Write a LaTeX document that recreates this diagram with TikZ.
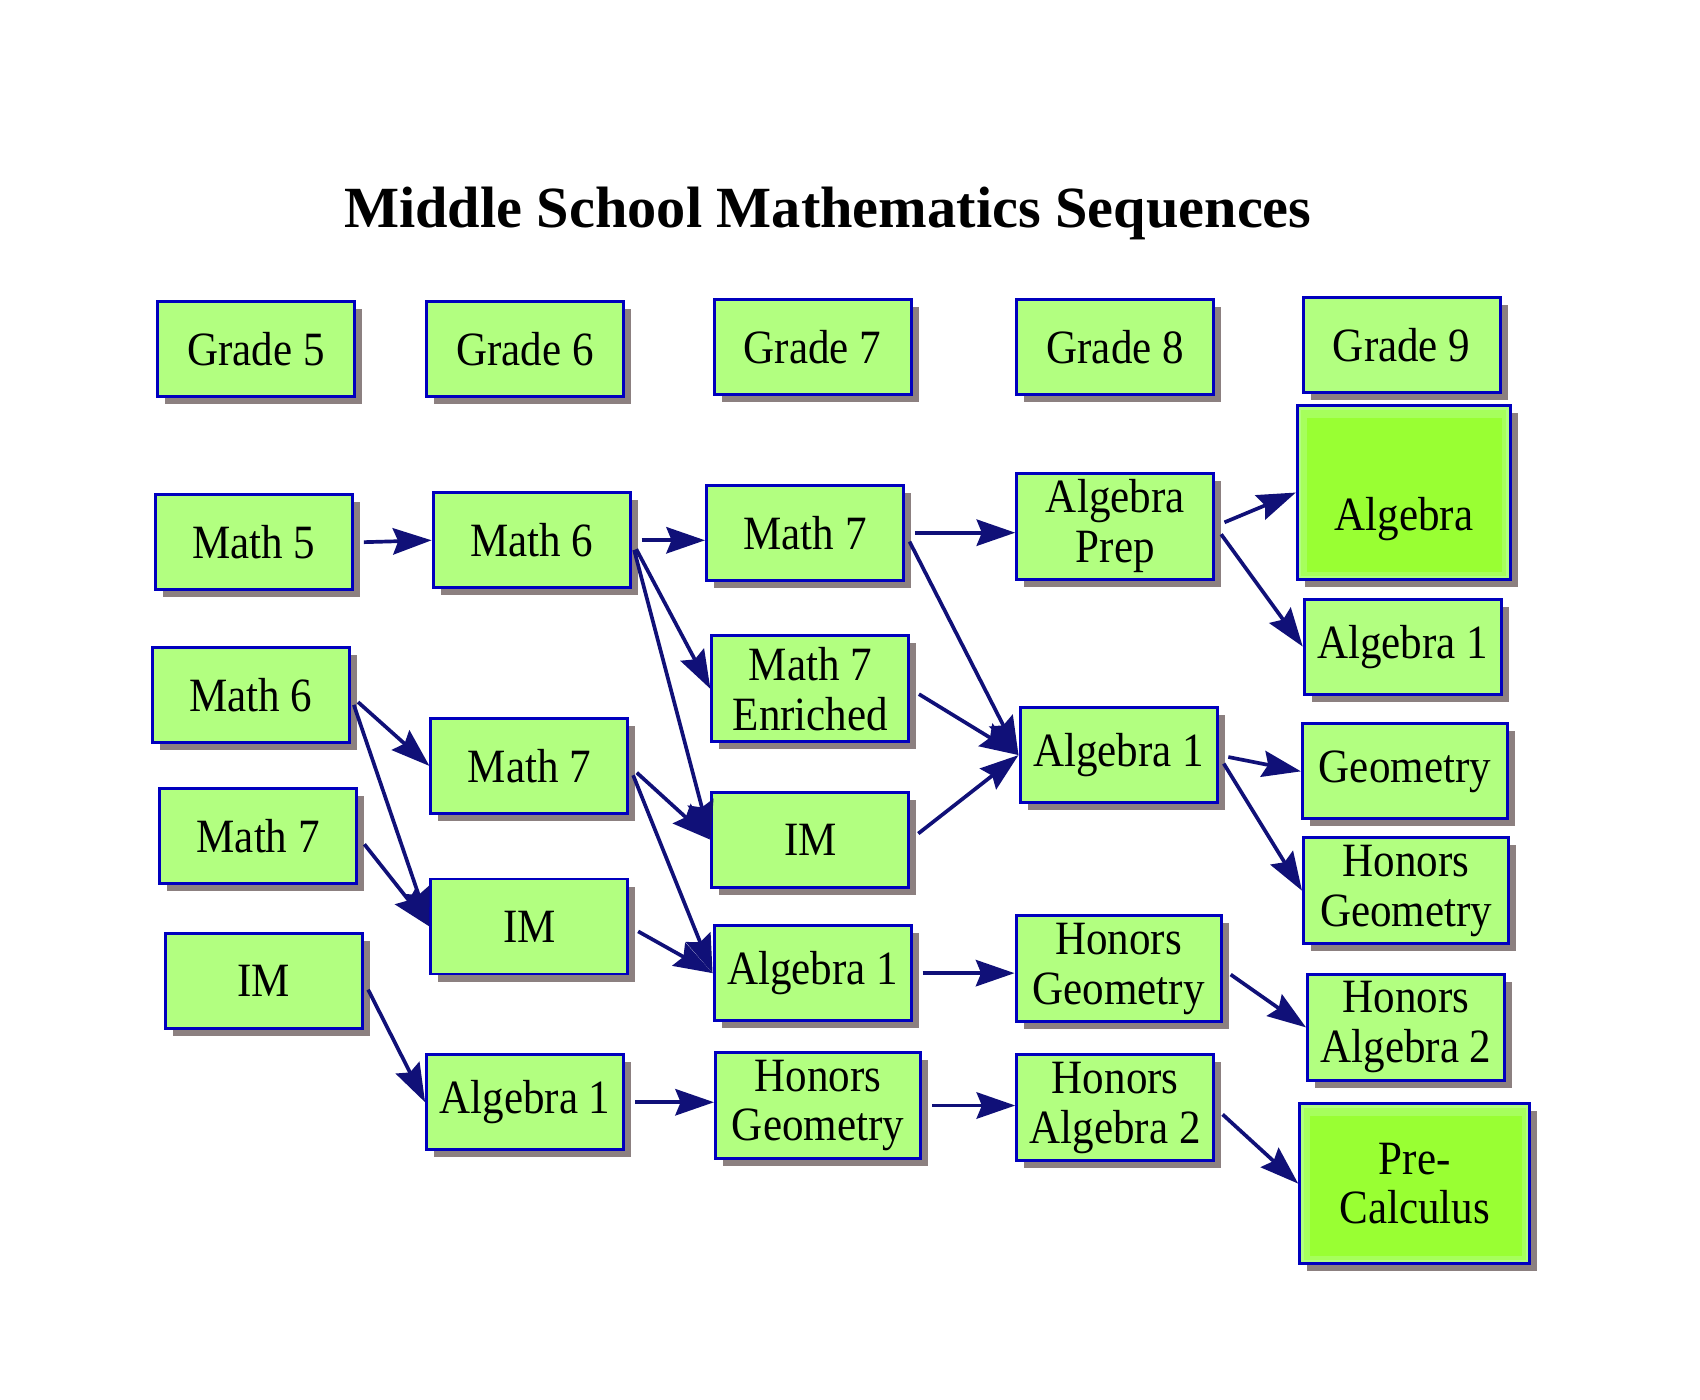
\documentclass[tikz,border=0pt]{standalone}
\usepackage{fontspec}
\setmainfont[FakeStretch=0.9]{Liberation Serif}
\newfontfamily\headfont{Liberation Serif}
\usetikzlibrary{arrows.meta}
\usetikzlibrary{shadows}
\definecolor{boxgreen}{RGB}{178,255,128}
\definecolor{midgreen}{RGB}{166,255,92}
\definecolor{coregreen}{RGB}{153,255,51}
\definecolor{boxblue}{RGB}{0,0,190}
\definecolor{shadowgray}{RGB}{140,128,128}
\definecolor{arrownavy}{RGB}{16,16,120}
\tikzset{
    course/.style = {rectangle,draw=boxblue,fill=boxgreen,line width=0.85pt,minimum width=1.97cm,minimum height=0.95cm,inner sep=1pt,align=center,font=\fontsize{13.6}{14.2}\selectfont,drop shadow={shadow xshift=0.075cm,shadow yshift=-0.075cm,opacity=1,fill=shadowgray}},
    tall/.style = {minimum height=1.06cm},
    wide/.style = {minimum width=2.05cm},
    core/.style = {path picture={
        \fill[midgreen] ([shift={(0.04cm,-0.04cm)}]path picture bounding box.north west) rectangle ([shift={(-0.04cm,0.04cm)}]path picture bounding box.south east);
        \fill[coregreen] ([shift={(0.1cm,-0.12cm)}]path picture bounding box.north west) rectangle ([shift={(-0.08cm,0.08cm)}]path picture bounding box.south east);}},
    flow/.style = {draw=arrownavy,line width=1.05pt,-{Stealth[length=11pt,width=7.5pt,inset=1.5pt]},shorten <=1mm}}
\begin{document}
\begin{tikzpicture}[x=0.01085cm,y=-0.01085cm]
        \useasboundingbox (0,0) rectangle (1567,1290);
        \node[anchor=base,font=\headfont\bfseries\fontsize{16.6}{20}\selectfont] (title) at (763,210) {Middle School Mathematics Sequences};
        \path (236,322) node[course] (Gr5) {Grade 5}
        ++ (248,0) node[course] (Gr6) {Grade 6}
        ++ (265,-2) node[course] (Gr7) {Grade 7}
        ++ (279,0) node[course] (Gr8) {Grade 8}
        ++ (264,-2) node[course] (Gr9) {Grade 9};
        % grade 5
        \path (234,500) node[course] (M5) {Math 5}
        ++ (-3,141) node[course] (M6a) {Math 6}
        ++ (7,130) node[course] (M7a) {Math 7}
        ++ (5,133) node[course] (IMa) {IM};
        % grade 6
        \path (490,498) node[course] (M6b) {Math 6}
        ++ (-2,208) node[course] (M7b) {Math 7}
        ++ (0,148) node[course] (IMb) {IM}
        ++ (-4,162) node[course] (A1b) {Algebra 1};
        % grade 7
        \path (742,491) node[course] (M7c) {Math 7}
        ++ (5,144) node[course,tall] (M7E) {Math 7\\Enriched}
        ++ (0,139) node[course] (IMc) {IM}
        ++ (2,123) node[course] (A1c) {Algebra 1}
        ++ (5,122) node[course,tall,wide] (HGc) {Honors\\Geometry};
        % grade 8
        \path (1028,485) node[course,tall] (AP) {Algebra\\Prep}
        ++ (3,211) node[course] (A1d) {Algebra 1}
        ++ (0,197) node[course,tall,wide] (HGd) {Honors\\Geometry}
        ++ (-3,128) node[course,tall] (HA2d) {Honors\\Algebra 2};
        % grade 9
        \path (1294,454) node[course,core,minimum width=2.13cm,minimum height=1.74cm,text height=0.85cm,text depth=0.1cm] (Alg) {Algebra}
        ++ (-1,142) node[course] (A1e) {Algebra 1}
        ++ (2,115) node[course,wide] (Geo) {Geometry}
        ++ (1,110) node[course,tall,wide] (HGe) {Honors\\Geometry}
        ++ (0,126) node[course,tall] (HA2e) {Honors\\Algebra 2}
        ++ (8,144) node[course,core,minimum width=2.3cm,minimum height=1.6cm] (PC) {Pre-\\Calculus};
        \draw[flow] (M5.east) -- (M6b.west);
        \draw[flow] (M6a.east) -- (M7b.west);
        \draw[flow] (M6a.east) -- (IMb.west);
        \draw[flow] (M7a.east) -- (IMb.west);
        \draw[flow] (IMa.east) -- (A1b.west);
        \draw[flow] (M6b.east) -- (M6b.east -| M7c.west);
        \draw[flow] (M6b.east) -- (M7E.west);
        \draw[flow] (M6b.east) -- (IMc.west);
        \draw[flow] (M7b.east) -- (IMc.west);
        \draw[flow] (M7b.east) -- (A1c.west);
        \draw[flow] (IMb.east) -- (A1c.west);
        \draw[flow] (A1b.east) -- (A1b.east -| HGc.west);
        \draw[flow] (M7c.east) -- (M7c.east -| AP.west);
        \draw[flow] (M7c.east) -- (A1d.west);
        \draw[flow] (M7E.east) -- (A1d.west);
        \draw[flow] (IMc.east) -- (A1d.west);
        \draw[flow] (A1c.east) -- (A1c.east -| HGd.west);
        \draw[flow] (HGc.east) -- (HGc.east -| HA2d.west);
        \draw[flow] (AP.east) -- (Alg.west);
        \draw[flow] (AP.east) -- (A1e.west);
        \draw[flow] (A1d.east) -- (Geo.west);
        \draw[flow] (A1d.east) -- (HGe.west);
        \draw[flow] (HGd.east) -- (HA2e.west);
        \draw[flow] (HA2d.east) -- (PC.west);
\end{tikzpicture}
\end{document}
